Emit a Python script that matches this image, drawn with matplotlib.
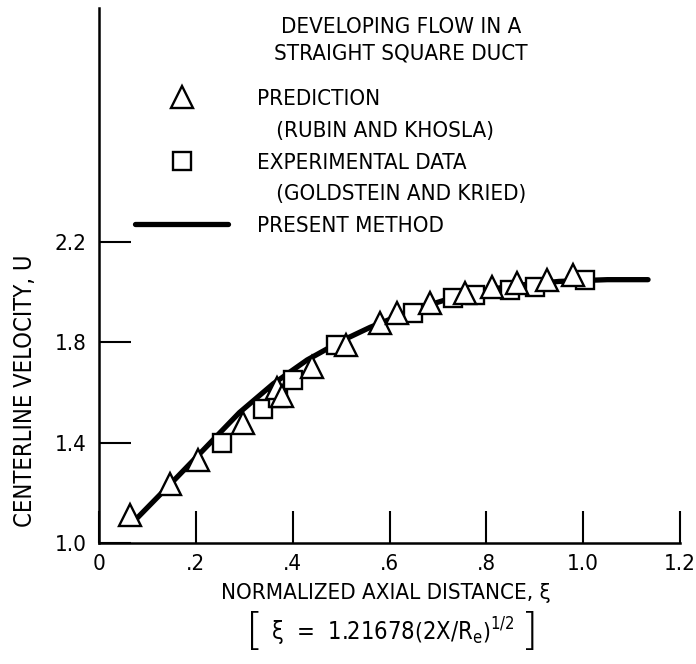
import numpy as np
import matplotlib
matplotlib.use("Agg")
import matplotlib.pyplot as plt
from matplotlib.lines import Line2D

# values
pred_xi = [0.064, 0.147, 0.205, 0.298, 0.368, 0.378, 0.44, 0.51, 0.58, 0.616, 0.684, 0.756, 0.812, 0.864, 0.926, 0.979]
pred_u = [1.11, 1.235, 1.33, 1.48, 1.62, 1.585, 1.70, 1.79, 1.877, 1.917, 1.957, 1.997, 2.02, 2.037, 2.05, 2.07]

exp_xi = [0.254, 0.339, 0.37, 0.40, 0.49, 0.649, 0.731, 0.777, 0.849, 0.90, 1.004]
exp_u = [1.40, 1.534, 1.58, 1.65, 1.79, 1.917, 1.977, 1.99, 2.01, 2.02, 2.05]

line_xi = [0.074, 0.15, 0.20, 0.25, 0.29, 0.36, 0.43, 0.50, 0.56, 0.65, 0.75, 0.85, 0.95, 1.05, 1.134]
line_u = [1.09, 1.24, 1.34, 1.44, 1.52, 1.635, 1.73, 1.805, 1.86, 1.93, 1.99, 2.025, 2.043, 2.05, 2.05]

xticks = [0, 0.2, 0.4, 0.6, 0.8, 1.0, 1.2]
xticklabels = ["0", ".2", ".4", ".6", ".8", "1.0", "1.2"]
yticks = [1.0, 1.4, 1.8, 2.2]
yticklabels = ["1.0", "1.4", "1.8", "2.2"]

plt.rcParams['font.family'] = ['DejaVu Sans']
plt.rcParams['font.stretch'] = 'condensed'
plt.rcParams['mathtext.fontset'] = 'custom'
plt.rcParams['mathtext.rm'] = 'DejaVu Sans:stretch=condensed'
plt.rcParams['mathtext.it'] = 'DejaVu Sans:stretch=condensed'
plt.rcParams['mathtext.bf'] = 'DejaVu Sans:stretch=condensed:bold'
fs = 16
tri_ms = 15.5
sq_ms = 13

fig = plt.figure(figsize=(6.96, 6.64), dpi=100)
ax = fig.add_axes([99/696, 1-543/664, 581/696, 535/664])

ax.plot(line_xi, line_u, c="black", lw=3.8, solid_capstyle="round", zorder=2)
ax.plot(exp_xi, exp_u, ls="none", marker="s", ms=sq_ms, mfc="white", mec="black", mew=1.7, zorder=3)
ax.plot(pred_xi, pred_u, ls="none", marker="^", ms=tri_ms, mfc="white", mec="black", mew=1.7, zorder=4)

ax.set_xlim(0, 1.2)
ax.set_ylim(1.0, 1.0 + 535/250.8)
ax.spines['top'].set_visible(False)
ax.spines['right'].set_visible(False)
for s in ['left', 'bottom']:
	ax.spines[s].set_linewidth(1.8)

ax.set_xticks(xticks)
ax.set_xticklabels(xticklabels, fontsize=fs)
ax.set_yticks(yticks)
ax.set_yticklabels(yticklabels, fontsize=fs)
ax.tick_params(direction="in", length=23, width=1.5)
ax.tick_params(axis="x", pad=8)
ax.tick_params(axis="y", pad=9)

ax.set_xlabel("NORMALIZED AXIAL DISTANCE, ξ", fontsize=fs)
ax.xaxis.set_label_coords(0.494, -0.093)
ax.xaxis.label.set_va("center")
ax.set_ylabel("CENTERLINE VELOCITY, U", fontsize=17)
ax.yaxis.set_label_coords(-0.127, 0.285)
ax.yaxis.label.set_va("center")

# formula under the x label, with tall thin square brackets
ax.text(0.505, -0.166, r"ξ  =  1.21678$\left(2X/R_e\right)^{1/2}$",
		transform=ax.transAxes, ha="center", va="center", fontsize=17)
ax.text(0.268, -0.168, "[", transform=ax.transAxes, ha="center", va="center",
		fontsize=32, fontweight=200, fontstretch="normal")
ax.text(0.742, -0.168, "]", transform=ax.transAxes, ha="center", va="center",
		fontsize=32, fontweight=200, fontstretch="normal")

ax.text(0.52, 0.983, "DEVELOPING FLOW IN A\nSTRAIGHT SQUARE DUCT", transform=ax.transAxes,
		ha="center", va="top", fontsize=fs, linespacing=1.4)

handles = [
	Line2D([], [], ls="none", marker="^", ms=tri_ms, mfc="white", mec="black", mew=1.7),
	Line2D([], [], ls="none"),
	Line2D([], [], ls="none", marker="s", ms=sq_ms, mfc="white", mec="black", mew=1.7),
	Line2D([], [], ls="none"),
	Line2D([], [], c="black", lw=3.8, solid_capstyle="round"),
]
labels = ["PREDICTION", "   (RUBIN AND KHOSLA)", "EXPERIMENTAL DATA", "   (GOLDSTEIN AND KRIED)", "PRESENT METHOD"]
ax.legend(handles, labels, loc="upper left", bbox_to_anchor=((135-99)/581, (543-89)/535),
		  frameon=False, fontsize=fs, handlelength=4.2, handletextpad=1.3,
		  borderpad=0, borderaxespad=0, labelspacing=0.53)

plt.savefig("out.png", dpi=100)
